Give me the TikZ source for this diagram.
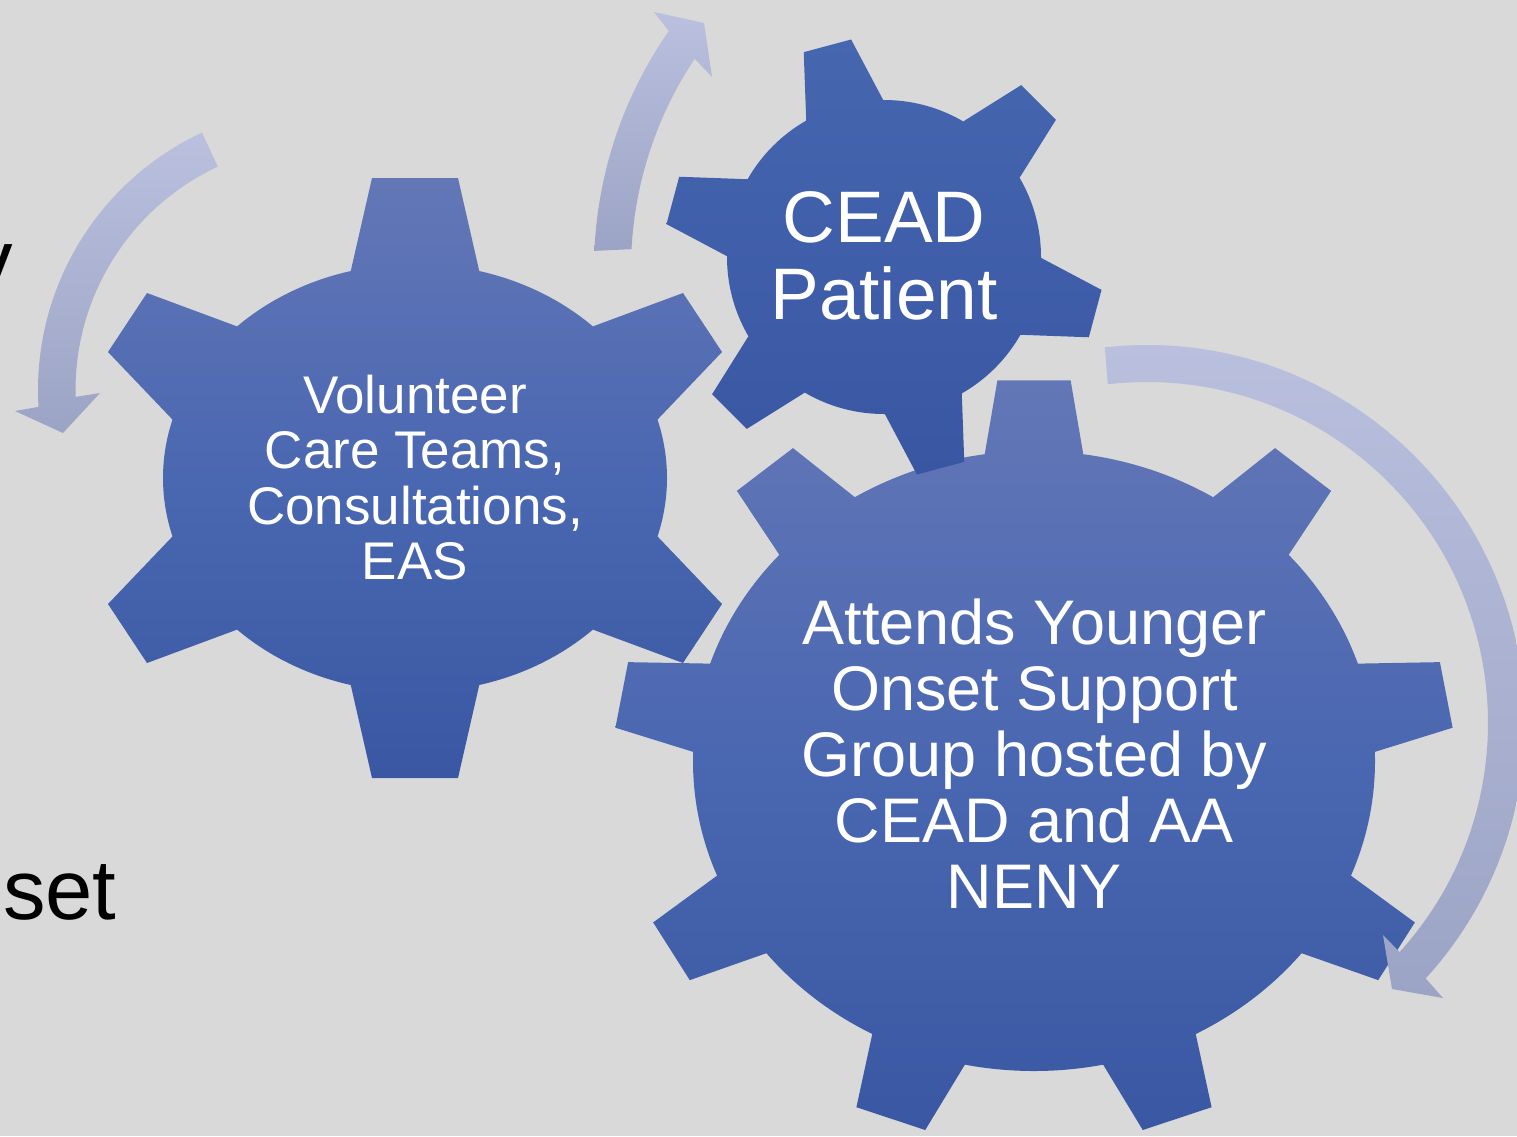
\documentclass[tikz,border=0pt]{standalone}
\usepackage{fontspec}
\setmainfont{Liberation Sans}
\usetikzlibrary{calc}
\definecolor{bg}{RGB}{217,217,217}
\definecolor{gtop}{RGB}{99,119,182}
\definecolor{gmid}{RGB}{74,103,177}
\definecolor{gbot}{RGB}{58,87,163}
\definecolor{stop}{RGB}{70,102,176}
\definecolor{sbot}{RGB}{57,86,162}
\definecolor{alight}{RGB}{186,192,222}
\definecolor{adark}{RGB}{156,164,197}
\begin{document}
\begin{tikzpicture}[x=1pt,y=-1pt,
  gearshade/.style={top color=gtop, bottom color=gbot, middle color=gmid, draw=none},
  smallshade/.style={top color=stop, bottom color=sbot, draw=none},
  arrowshade/.style={top color=alight, bottom color=adark, draw=none},
  gtext/.style={text=white, inner sep=0pt, anchor=base},
  bgtext/.style={text=black, inner sep=0pt, anchor=base west, font=\fontsize{85}{100}\selectfont}]
\useasboundingbox (0,0) rectangle (1517,1136);
\fill[bg] (0,0) rectangle (1517,1136);
\begin{scope}
\clip (0,0) rectangle (1517,1136);
% background slide text (cut off)
\node[bgtext] (ytxt) at (-30,289) {y};
\node[bgtext] (settxt) at (3,919) {set};
% big gear
\begin{scope}[shift={(1034,761)}, xscale=1.1]
\shade[gearshade] (0:310) arc[start angle=0,end angle=360,radius=310] -- cycle
  \foreach \a in {-90,-50,...,230} { ({\a-8.6}:305) -- ({\a-5}:382) -- ({\a+5}:382) -- ({\a+8.6}:305) -- cycle };
\end{scope}
% left gear
\shade[gearshade] (667,478) arc[start angle=0,end angle=360,x radius=252,y radius=214] -- cycle
 (348.3,281.7) -- (372,178) -- (458,178) -- (481.7,281.7) -- cycle
 (582.7,330.2) -- (683,293) -- (722,352) -- (650.7,426.7) -- cycle
 (650.7,529.3) -- (722,604) -- (683,663) -- (582.7,625.8) -- cycle
 (481.7,674.3) -- (458,778) -- (372,778) -- (348.3,674.3) -- cycle
 (247.3,625.8) -- (147,663) -- (108,604) -- (179.3,529.3) -- cycle
 (179.3,426.7) -- (108,352) -- (147,293) -- (247.3,330.2) -- cycle;
% small gear
\begin{scope}[shift={(884,257)}]
\shade[smallshade] (0:157) arc[start angle=0,end angle=360,radius=157] -- cycle
  \foreach \a in {-105,-45,...,195} { ({\a-14.7}:157) -- ({\a-6.4}:220) -- ({\a+6.4}:220) -- ({\a+14.7}:157) -- cycle };
\end{scope}
% texts
\node[gtext, font=\fontsize{53}{55}\selectfont] (l1) at (415,413) {Volunteer};
\node[gtext, font=\fontsize{53}{55}\selectfont] (l2) at (415,468) {Care Teams,};
\node[gtext, font=\fontsize{53}{55}\selectfont] (l3) at (415,524) {Consultations,};
\node[gtext, font=\fontsize{53}{55}\selectfont] (l4) at (415,579) {EAS};
\node[gtext, font=\fontsize{73}{78}\selectfont] (s1) at (884,242.5) {CEAD};
\node[gtext, font=\fontsize{73}{78}\selectfont] (s2) at (884,319.5) {Patient};
\node[gtext, font=\fontsize{63}{66}\selectfont] (b1) at (1034.5,644) {Attends Younger};
\node[gtext, font=\fontsize{63}{66}\selectfont] (b2) at (1034.5,710) {Onset Support};
\node[gtext, font=\fontsize{63}{66}\selectfont] (b3) at (1034.5,776) {Group hosted by};
\node[gtext, font=\fontsize{63}{66}\selectfont] (b4) at (1034.5,842) {CEAD and AA};
\node[gtext, font=\fontsize{63}{66}\selectfont] (b5) at (1034.5,908) {NENY};
% arrows
\coordinate (LAc) at (322,390);
\coordinate (LAw1) at (15,411);
\coordinate (LAt) at (63,433);
\coordinate (LAw2) at (100,393);
\shade[arrowshade] ($(LAc)+(-115:284)$) arc[start angle=-115,end angle=-183.4,radius=284] -- (LAw1) -- (LAt) -- (LAw2) -- ($(LAc)+(-181.6:246.5)$) arc[start angle=-181.6,end angle=-115,radius=246.5] -- cycle;
\coordinate (TAc) at (1010,269);
\coordinate (TAw1) at (654,12);
\coordinate (TAt) at (704,23);
\coordinate (TAw2) at (712,77);
\shade[arrowshade] ($(TAc)+(-177.5:416)$) arc[start angle=-177.5,end angle=-145.1,radius=416] -- (TAw1) -- (TAt) -- (TAw2) -- ($(TAc)+(-146.3:379)$) arc[start angle=-146.3,end angle=-177,radius=379] -- cycle;
\coordinate (RAc) at (1147,723);
\coordinate (RAw1) at (1443,998);
\coordinate (RAt) at (1392,989);
\coordinate (RAw2) at (1383,935);
\shade[arrowshade] ($(RAc)+(-96.4:378)$) arc[start angle=-96.4,end angle=42.5,radius=378] -- (RAw1) -- (RAt) -- (RAw2) -- ($(RAc)+(42.2:341)$) arc[start angle=42.2,end angle=-96.6,radius=341] -- cycle;
\end{scope}
\end{tikzpicture}
\end{document}
